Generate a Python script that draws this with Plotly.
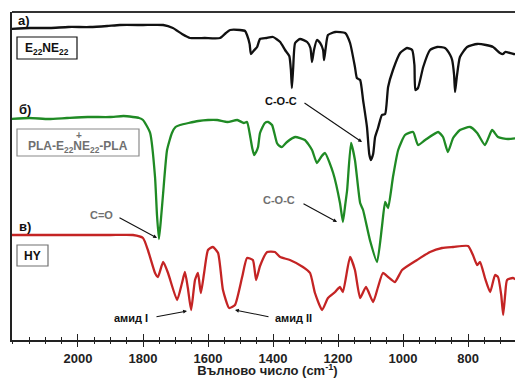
import plotly.graph_objects as go

# ---- data (wavenumber, cm^-1 ; transmittance, a.u.) ----
wn_a = [2210, 2150, 2086, 2030, 1963, 1910, 1871, 1800, 1738, 1708, 1680, 1655, 1610, 1563, 1545, 1532, 1502, 1486,
        1480, 1472, 1468, 1460, 1449, 1440, 1420, 1400, 1378, 1363, 1350, 1345, 1342, 1338, 1332, 1317, 1295, 1285,
        1280, 1274, 1265, 1255, 1246, 1243, 1238, 1231, 1209, 1178, 1163, 1148, 1142, 1132, 1123, 1111, 1104, 1099,
        1092, 1086, 1077, 1065, 1055, 1046, 1031, 1009, 988, 972, 965, 962, 954, 938, 917, 895, 871, 855, 849, 843,
        840, 835, 825, 803, 772, 745, 723, 702, 692, 686, 660, 625]
t_a = [311, 312, 312, 313, 313, 314, 315, 315, 315, 312, 306, 302, 302, 302, 307, 310, 310, 309,
       305, 296, 286, 289, 293, 301, 302, 303, 298, 290, 284, 270, 252, 272, 297, 301, 298, 292,
       278, 290, 300, 297, 290, 280, 292, 305, 308, 307, 297, 273, 262, 260, 240, 213, 186, 180,
       186, 203, 212, 225, 226, 253, 270, 287, 292, 290, 275, 250, 252, 273, 290, 293, 292, 285, 280, 265,
       248, 262, 283, 293, 296, 295, 293, 287, 286, 288, 286, 285]

wn_b = [2210, 2150, 2090, 2034, 1970, 1902, 1860, 1831, 1812, 1800, 1790, 1778, 1763, 1757, 1751, 1745, 1738, 1726,
        1711, 1700, 1686, 1660, 1630, 1600, 1572, 1540, 1510, 1490, 1480, 1471, 1464, 1458, 1452, 1446, 1440, 1425,
        1415, 1403, 1388, 1380, 1372, 1357, 1332, 1302, 1280, 1265, 1250, 1240, 1215, 1194, 1185, 1178, 1172, 1160,
        1148, 1132, 1123, 1102, 1080, 1065, 1055, 1046, 1031, 1015, 994, 969, 954, 932, 892, 877, 862, 846, 825, 794,
        772, 748, 726, 708, 677, 625]
t_b = [221, 222, 221, 222, 223, 223, 224, 223, 222, 220, 215, 207, 163, 125, 101, 120, 147, 190,
       207, 213, 215, 217, 219, 220, 220, 218, 220, 217, 218, 205, 192, 185, 188, 193, 207, 217,
       218, 215, 197, 194, 193, 198, 203, 200, 190, 177, 184, 187, 167, 137, 118, 135, 150, 197,
       180, 137, 130, 100, 78, 113, 138, 132, 163, 190, 205, 208, 195, 200, 208, 203, 188, 202, 210, 213,
       207, 195, 210, 203, 201, 203]

wn_c = [2210, 2100, 2000, 1900, 1831, 1800, 1785, 1763, 1754, 1738, 1723, 1695, 1680, 1671, 1662, 1652, 1640, 1631,
        1622, 1612, 1600, 1585, 1569, 1554, 1535, 1517, 1495, 1480, 1462, 1452, 1440, 1418, 1394, 1378, 1348, 1308,
        1286, 1271, 1249, 1231, 1209, 1194, 1185, 1163, 1148, 1132, 1114, 1092, 1077, 1062, 1046, 1025, 1003, 957,
        917, 880, 846, 800, 785, 772, 763, 748, 732, 717, 708, 698, 692, 686, 680, 662, 625]
t_c = [105, 105, 105, 105, 105, 102, 90, 67, 63, 78, 67, 40, 57, 68, 52, 30, 60, 67,
       47, 67, 90, 93, 87, 50, 32, 35, 63, 82, 80, 60, 74, 88, 88, 83, 80, 73,
       67, 47, 30, 42, 48, 53, 48, 83, 70, 42, 53, 38, 53, 67, 63, 58, 70, 80,
       88, 92, 93, 94, 85, 75, 78, 62, 48, 65, 63, 45, 25, 45, 60, 62, 54]

tick_vals = [2000, 1800, 1600, 1400, 1200, 1000, 800]
x_title = "Вълново число (cm<sup>-1</sup>)"

FONT = "Liberation Sans"
BLACK = "#111111"
GREEN = "#1f8a24"
RED = "#c42424"
GRAY = "#707070"
AX = "#222222"

# The page body has an 8 px margin; the figure is sized to fit the 523x378 window.
OFF = 8
W, H = 523 - OFF, 378 - OFF
# plot area in window pixels
L, R, T, B = 12, 523, 12, 340

line_kw = dict(width=2.3, shape="spline", smoothing=0.5)
fig = go.Figure()
fig.add_trace(go.Scatter(x=wn_a, y=t_a, mode="lines", line=dict(color=BLACK, **line_kw), hoverinfo="skip"))
fig.add_trace(go.Scatter(x=wn_b, y=t_b, mode="lines", line=dict(color=GREEN, **line_kw), hoverinfo="skip"))
fig.add_trace(go.Scatter(x=wn_c, y=t_c, mode="lines", line=dict(color=RED, **line_kw), hoverinfo="skip"))
fig.add_trace(go.Scatter(x=[None], y=[None], xaxis="x2", mode="lines", hoverinfo="skip"))


def P(px, py):
    return (px - L) / (R - L), (B - py) / (B - T)


anns = []


def text(px, py, s, color=BLACK, size=12):
    x, y = P(px, py)
    anns.append(dict(x=x, y=y, xref="paper", yref="paper", text=s, showarrow=False,
                     xanchor="center", yanchor="middle",
                     font=dict(family=FONT, size=size, color=color, weight="bold")))


def arrow(tx, ty, hx, hy, color=BLACK):
    x, y = P(hx, hy)
    anns.append(dict(x=x, y=y, xref="paper", yref="paper", text="", showarrow=True,
                     ax=tx - hx, ay=ty - hy, arrowhead=2, arrowsize=0.7, arrowwidth=1.1,
                     arrowcolor=color, standoff=0, startstandoff=0))


def box(x0, y0, x1, y1, color):
    a, b = P(x0, y0)
    c, d = P(x1, y1)
    return dict(type="rect", xref="paper", yref="paper", x0=a, y0=b, x1=c, y1=d,
                line=dict(color=color, width=1.2), layer="above")


text(24, 20, "а)", size=13)
text(25, 109, "б)", size=13)
text(25, 226, "в)", size=13)

text(47, 49, "E<sub>22</sub>NE<sub>22</sub>", size=12)
text(78, 147, "PLA-E<sub>22</sub>NE<sub>22</sub>-PLA", color=GRAY, size=12)
text(78.5, 135, "+", color=GRAY, size=10)
text(32.5, 256, "HY", size=12)

text(281, 101, "C-O-C", size=11)
arrow(303, 102, 362, 142)
text(279, 200, "C-O-C", color=GRAY, size=11)
arrow(302, 203, 337, 222)
text(101, 215, "C=O", color=GRAY, size=11)
arrow(118, 217, 157, 238)
text(131, 318, "амид I", size=11)
arrow(155, 317, 187, 311)
text(293, 318, "амид II", size=11)
arrow(270, 317, 235, 310)

shapes = [
    box(17, 37, 77, 59, BLACK),
    box(17, 129, 139, 156, "#8a8a8a"),
    box(17, 245, 48, 266, GRAY),
    dict(type="line", xref="paper", yref="paper", x0=0, x1=1, y0=1, y1=1,
         line=dict(color="#333333", width=2), layer="above"),
]

xr = [2203, 631]
fig.update_layout(
    width=W, height=H,
    margin=dict(l=L - OFF, r=(523 - R), t=T - OFF, b=378 - B),
    paper_bgcolor="white", plot_bgcolor="white",
    showlegend=False,
    annotations=anns,
    shapes=shapes,
    xaxis=dict(range=xr, showgrid=False, zeroline=False, showline=True, linecolor=AX, linewidth=2,
               ticks="outside", ticklen=5, tickwidth=1.3, tickcolor=AX,
               tickmode="array", tickvals=tick_vals,
               minor=dict(tickmode="linear", tick0=0, dtick=50, ticks="outside", ticklen=2, tickcolor=AX),
               tickfont=dict(family=FONT, size=13, color=AX, weight="bold"),
               title=dict(text=x_title, font=dict(family=FONT, size=13, color=AX, weight="bold"), standoff=3)),
    xaxis2=dict(range=xr, overlaying="x", side="bottom", showgrid=False, zeroline=False, showline=False,
                ticks="inside", ticklen=6, tickwidth=1.3, tickcolor=AX, tickmode="array",
                tickvals=tick_vals, showticklabels=False,
                minor=dict(tickmode="linear", tick0=0, dtick=50, ticks="inside", ticklen=3, tickcolor=AX)),
    yaxis=dict(range=[0, 328], showgrid=False, zeroline=False, showticklabels=False, ticks="",
               showline=True, linecolor=AX, linewidth=2),
)

fig.write_html("out.html")
